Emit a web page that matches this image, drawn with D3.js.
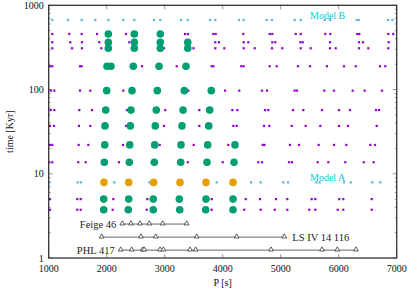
<!DOCTYPE html>
<html>
<head>
<meta charset="utf-8">
<script src="https://cdn.jsdelivr.net/npm/d3@7"></script>
<style>
  body { margin: 0; background: #fff; }
  svg text { font-family: "Liberation Serif", "DejaVu Serif", serif; }
</style>
</head>
<body>
<svg id="chart"></svg>
<script>
const svg = d3.select("#chart");
const box = { width: 409, height: 290, left: 48.7, right: 396.7, top: 5.3, bottom: 258 };

svg.attr("width", box.width).attr("height", box.height);

// time rows [Kyr] and periods [s]
const greenRows = [
  [456, [2028, 2476, 2924]],
  [364, [2028, 2476, 2924, 3397]],
  [309, [2028, 2476, 2924, 3397]],
  [189, [2005, 2074, 2459, 2902, 3367]],
  [97, [2000, 2436, 2872, 3338, 3803]],
  [57, [1983, 2419, 2855, 3316, 3776]],
  [37, [1971, 2407, 2838, 3298, 3759]],
  [22, [1966, 2397, 2828, 3281, 3741, 4212]],
  [13.7, [1959, 2390, 2821, 3276, 3729, 4195]],
  [5.0, [1948, 2379, 2803, 3252, 3712, 4178]],
  [3.74, [1948, 2372, 2803, 3259, 3707, 4178]],
];

const orangeRows = [
  [7.9, [1953, 2379, 2810, 3264, 3712, 4178]],
];

const purpleRows = [
  [456, [1062, 1355, 1569, 1833, 2333, 3350, 3402, 3838, 3879, 4355, 4810, 4855, 5259, 5345, 5769, 5855, 6320, 6355, 6855, 6941]],
  [364, [1062, 1372, 1574, 1872, 2390, 3872, 3936, 4362, 4441, 4855, 4907, 5340, 5380, 5850, 6350, 6419, 6862]],
  [309, [1062, 1402, 1574, 1907, 2988, 3497, 3872, 4028, 4362, 4552, 4850, 5028, 5345, 5517, 5850, 5948, 6350, 6510, 6855]],
  [189, [1022, 1062, 1540, 1569, 2609, 3207, 3810, 3840, 4320, 4360, 4810, 4931, 5298, 5505, 5798, 6091, 6293, 6712, 6803]],
  [97, [1034, 1097, 1540, 1717, 2286, 3407, 4040, 4286, 4678, 4764, 5240, 5280, 5752, 5919, 6241, 6448, 6747]],
  [57, [1034, 1097, 1528, 1747, 2350, 3010, 3597, 4166, 4252, 4729, 4786, 5212, 5390, 5712, 6005, 6195, 6643, 6695]],
  [37, [1022, 1091, 1522, 1717, 2333, 2988, 3597, 4183, 4241, 4712, 4803, 5190, 5431, 5683, 6005, 6160, 6655]],
  [22, [1022, 1062, 1517, 1683, 2281, 2914, 3500, 4097, 4690, 4720, 5160, 5316, 5655, 5919, 6131, 6545, 6626]],
  [13.7, [1010, 1062, 1510, 1638, 2212, 3397, 4000, 4614, 4678, 5143, 5195, 5638, 5821, 6114, 6431, 6603]],
  [5.0, [1022, 1493, 1552, 2114, 2700, 3810, 4397, 4643, 4919, 5114, 5534, 5597, 6010, 6079, 6569]],
  [3.74, [1022, 1493, 1552, 2103, 2690, 3810, 4372, 4655, 4897, 5114, 5493, 5597, 5983, 6079, 6569]],
];

const cyanRows = [
  [670, [1062, 1333, 1569, 1803, 2028, 2286, 2476, 2816, 2924, 3281, 3397, 3781, 3872, 4281, 4362, 4759, 4850, 5241, 5345, 5759, 5850, 6310, 6345, 6850, 6924]],
  [7.9, [1010, 1500, 1557, 2131, 2734, 3897, 4488, 4655, 5045, 5126, 5615, 5670, 6091, 6207, 6579, 6717]],
];

const stars = [
  { name: "Feige 46", t: 2.53, periods: [2269, 2419, 2574, 2734, 2966, 3379], side: "left" },
  { name: "LS IV  14 116", t: 1.77, periods: [1914, 2591, 2845, 3552, 4241, 5062], side: "right" },
  { name: "PHL 417", t: 1.24, periods: [2241, 2431, 2620, 2645, 2919, 2976, 3436, 3534, 4833, 5712, 5976, 6298], side: "left" },
];

const xTicks = [1000, 2000, 3000, 4000, 5000, 6000, 7000];
const yTicks = [1, 10, 100, 1000];
const modelLabels = [["Model B", 5505, 680], ["Model A", 5505, 8.2]];

const x = d3.scaleLinear().domain([1000, 7000]).range([box.left, box.right]);
const y = d3.scaleLog().domain([1, 1000]).range([box.bottom, box.top]);

const flatten = (rows) => rows.flatMap(([t, ps]) => ps.map((p) => ({ p, t })));

// ticks (inside, mirrored)
const minorY = [];
[1, 10, 100].forEach((d) => { for (let k = 2; k <= 9; k++) minorY.push(d * k); });

const tickG = svg.append("g").attr("stroke", "#999").attr("stroke-width", 1);
xTicks.forEach((v) => {
  tickG.append("line").attr("x1", x(v)).attr("x2", x(v)).attr("y1", box.bottom).attr("y2", box.bottom - 4);
  tickG.append("line").attr("x1", x(v)).attr("x2", x(v)).attr("y1", box.top).attr("y2", box.top + 4);
});
yTicks.forEach((v) => {
  tickG.append("line").attr("x1", box.left).attr("x2", box.left + 4).attr("y1", y(v)).attr("y2", y(v));
  tickG.append("line").attr("x1", box.right).attr("x2", box.right - 4).attr("y1", y(v)).attr("y2", y(v));
});
minorY.forEach((v) => {
  tickG.append("line").attr("x1", box.left).attr("x2", box.left + 2).attr("y1", y(v)).attr("y2", y(v));
  tickG.append("line").attr("x1", box.right).attr("x2", box.right - 2).attr("y1", y(v)).attr("y2", y(v));
});

// tick labels
svg.append("g").selectAll("text").data(xTicks).join("text")
  .attr("x", (d) => x(d)).attr("y", box.bottom + 14)
  .attr("text-anchor", "middle").attr("font-size", 10).attr("fill", "#111")
  .text((d) => d);

svg.append("g").selectAll("text").data(yTicks).join("text")
  .attr("x", box.left - 5).attr("y", (d) => y(d) + 3.5)
  .attr("text-anchor", "end").attr("font-size", 10).attr("fill", "#111")
  .text((d) => d);

svg.append("text").attr("x", (box.left + box.right) / 2).attr("y", 286)
  .attr("text-anchor", "middle").attr("font-size", 10).attr("fill", "#111").text("P [s]");

svg.append("text")
  .attr("transform", `translate(13, ${(box.top + box.bottom) / 2}) rotate(-90)`)
  .attr("text-anchor", "middle").attr("font-size", 10).attr("fill", "#111").text("time [Kyr]");

// model points
svg.append("g").selectAll("rect").data(flatten(purpleRows)).join("rect")
  .attr("x", (d) => x(d.p) - 1.1).attr("y", (d) => y(d.t) - 1.1)
  .attr("width", 2.2).attr("height", 2.2).attr("fill", "#9400d3");

svg.append("g").selectAll("rect").data(flatten(cyanRows)).join("rect")
  .attr("x", (d) => x(d.p) - 1.1).attr("y", (d) => y(d.t) - 1.1)
  .attr("width", 2.2).attr("height", 2.2).attr("fill", "#56b4e9");

svg.append("g").selectAll("circle").data(flatten(greenRows)).join("circle")
  .attr("cx", (d) => x(d.p)).attr("cy", (d) => y(d.t)).attr("r", 3.8).attr("fill", "#009e73");

svg.append("g").selectAll("circle").data(flatten(orangeRows)).join("circle")
  .attr("cx", (d) => x(d.p)).attr("cy", (d) => y(d.t)).attr("r", 3.8).attr("fill", "#e69f00");

// observed stars
const tri = d3.symbol().type(d3.symbolTriangle).size(10);
stars.forEach((s) => {
  const g = svg.append("g");
  g.append("line")
    .attr("x1", x(d3.min(s.periods))).attr("x2", x(d3.max(s.periods)))
    .attr("y1", y(s.t)).attr("y2", y(s.t))
    .attr("stroke", "#555").attr("stroke-width", 0.9);
  g.selectAll("path").data(s.periods).join("path")
    .attr("d", tri)
    .attr("transform", (d) => `translate(${x(d)}, ${y(s.t) - 0.5})`)
    .attr("fill", "#fff").attr("stroke", "#333").attr("stroke-width", 0.8);
  const left = s.side === "left";
  g.append("text")
    .attr("x", left ? x(d3.min(s.periods)) - 6 : x(d3.max(s.periods)) + 8)
    .attr("y", y(s.t) + 3.5)
    .attr("text-anchor", left ? "end" : "start")
    .attr("font-size", 10.5).attr("fill", "#222")
    .text(s.name);
});

// model labels
svg.append("g").selectAll("text").data(modelLabels).join("text")
  .attr("x", (d) => x(d[1])).attr("y", (d) => y(d[2]))
  .attr("font-size", 10).attr("fill", "#00ced1")
  .text((d) => d[0]);

// frame
svg.append("rect")
  .attr("x", box.left).attr("y", box.top)
  .attr("width", box.right - box.left).attr("height", box.bottom - box.top)
  .attr("fill", "none").attr("stroke", "#333").attr("stroke-width", 1.3);
</script>
</body>
</html>
